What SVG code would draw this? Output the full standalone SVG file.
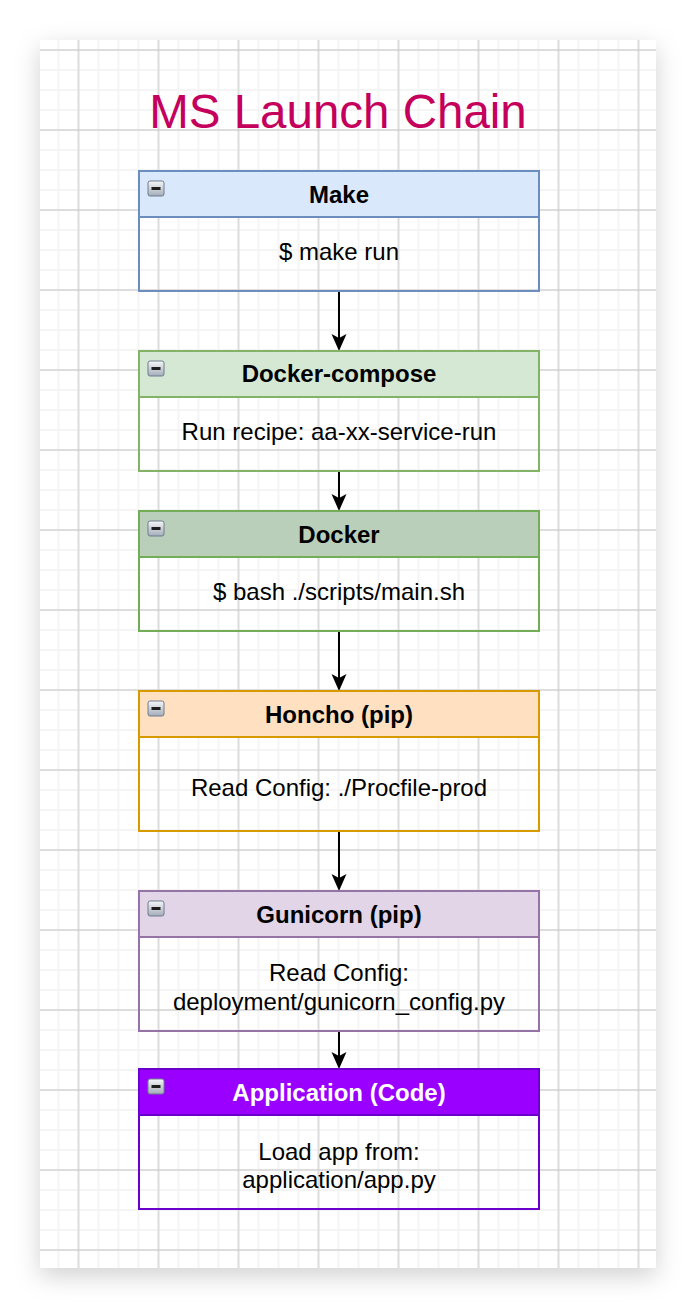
<svg xmlns="http://www.w3.org/2000/svg" width="696" height="1308" viewBox="0 0 696 1308">
<style>
.hd{font-family:"Liberation Sans",Arial,sans-serif;font-size:24px;font-weight:bold;text-anchor:middle;fill:#000}
.bd{font-family:"Liberation Sans",Arial,sans-serif;font-size:24px;text-anchor:middle;fill:#000}
.title{font-family:"Liberation Sans",Arial,sans-serif;font-size:47.5px;text-anchor:middle;fill:#C4005C}
.frame{fill:none;stroke-width:2}
.conn{stroke:#000;stroke-width:2;fill:none}
</style>
<defs>
<filter id="sh" x="-20%" y="-20%" width="140%" height="140%">
<feDropShadow dx="0" dy="8" stdDeviation="12" flood-color="#000" flood-opacity="0.18"/>
</filter>
<pattern id="minor" patternUnits="userSpaceOnUse" x="28.5" y="0" width="20" height="20">
<line x1="10" y1="0" x2="10" y2="20" stroke="#f2f2f2" stroke-width="1.6"/>
<line x1="0" y1="10" x2="20" y2="10" stroke="#f2f2f2" stroke-width="1.6"/>
</pattern>
<pattern id="major" patternUnits="userSpaceOnUse" x="38.5" y="10" width="80" height="80">
<line x1="40" y1="0" x2="40" y2="80" stroke="#c6c6c6" stroke-width="1"/>
<line x1="0" y1="40" x2="80" y2="40" stroke="#c6c6c6" stroke-width="1"/>
</pattern>
<linearGradient id="ig" x1="0" y1="0" x2="0" y2="1">
<stop offset="0" stop-color="#f6f7f9"/>
<stop offset="1" stop-color="#a3adb8"/>
</linearGradient>
<g id="icon">
<rect x="0" y="0" width="16" height="15" rx="2" fill="url(#ig)" stroke="#6e7d90" stroke-width="1"/>
<rect x="3.5" y="6" width="9" height="3" fill="#1e1e1e"/>
</g>
</defs>

<rect x="40" y="40" width="616" height="1228" fill="#fff" filter="url(#sh)"/>
<rect x="40" y="40" width="616" height="1228" fill="url(#minor)"/>
<rect x="40" y="40" width="616" height="1228" fill="url(#major)"/>

<text class="title" x="338" y="128">MS Launch Chain</text>

<g id="connectors">
<path class="conn" d="M339 291 V348"/>
<path d="M339 351 L331.5 334 L339 338 L346.5 334 Z"/>
<path class="conn" d="M339 471 V508"/>
<path d="M339 511 L331.5 494 L339 498 L346.5 494 Z"/>
<path class="conn" d="M339 631 V688"/>
<path d="M339 691 L331.5 674 L339 678 L346.5 674 Z"/>
<path class="conn" d="M339 831 V888"/>
<path d="M339 891 L331.5 874 L339 878 L346.5 874 Z"/>
<path class="conn" d="M339 1031 V1066"/>
<path d="M339 1069 L331.5 1052 L339 1056 L346.5 1052 Z"/>
</g>

<g id="make">
<rect x="139" y="171" width="400" height="46" fill="#dae8fc"/>
<rect class="frame" x="139" y="171" width="400" height="120" stroke="#6c8ebf"/>
<line x1="139" y1="217" x2="539" y2="217" stroke="#6c8ebf" stroke-width="2"/>
<use href="#icon" x="148" y="181"/>
<text class="hd" x="339" y="202.5">Make</text>
<text class="bd" x="339" y="260">$ make run</text>
</g>

<g id="docker-compose">
<rect x="139" y="351" width="400" height="46" fill="#d5e8d4"/>
<rect class="frame" x="139" y="351" width="400" height="120" stroke="#82b366"/>
<line x1="139" y1="397" x2="539" y2="397" stroke="#82b366" stroke-width="2"/>
<use href="#icon" x="148" y="361"/>
<text class="hd" x="339" y="382">Docker-compose</text>
<text class="bd" x="339" y="439.5">Run recipe: aa-xx-service-run</text>
</g>

<g id="docker">
<rect x="139" y="511" width="400" height="46" fill="#bacfb9"/>
<rect class="frame" x="139" y="511" width="400" height="120" stroke="#74ad58"/>
<line x1="139" y1="557" x2="539" y2="557" stroke="#74ad58" stroke-width="2"/>
<use href="#icon" x="148" y="521"/>
<text class="hd" x="339" y="542.5">Docker</text>
<text class="bd" x="339" y="600">$ bash ./scripts/main.sh</text>
</g>

<g id="honcho">
<rect x="139" y="691" width="400" height="46" fill="#ffe1c2"/>
<rect class="frame" x="139" y="691" width="400" height="140" stroke="#d79b00"/>
<line x1="139" y1="737" x2="539" y2="737" stroke="#d79b00" stroke-width="2"/>
<use href="#icon" x="148" y="701"/>
<text class="hd" x="339" y="723">Honcho (pip)</text>
<text class="bd" x="339" y="796">Read Config: ./Procfile-prod</text>
</g>

<g id="gunicorn">
<rect x="139" y="891" width="400" height="46" fill="#e1d5e7"/>
<rect class="frame" x="139" y="891" width="400" height="140" stroke="#9673a6"/>
<line x1="139" y1="937" x2="539" y2="937" stroke="#9673a6" stroke-width="2"/>
<use href="#icon" x="148" y="901"/>
<text class="hd" x="339" y="922.5">Gunicorn (pip)</text>
<text class="bd" x="339" y="981">Read Config:</text>
<text class="bd" x="339" y="1009.5">deployment/gunicorn_config.py</text>
</g>

<g id="application">
<rect x="139" y="1069" width="400" height="46" fill="#9900ff"/>
<rect class="frame" x="139" y="1069" width="400" height="140" stroke="#6a00cc"/>
<line x1="139" y1="1115" x2="539" y2="1115" stroke="#6a00cc" stroke-width="2"/>
<use href="#icon" x="148" y="1079"/>
<text class="hd" x="339" y="1101" style="fill:#fff">Application (Code)</text>
<text class="bd" x="339" y="1160">Load app from:</text>
<text class="bd" x="339" y="1188">application/app.py</text>
</g>
</svg>
